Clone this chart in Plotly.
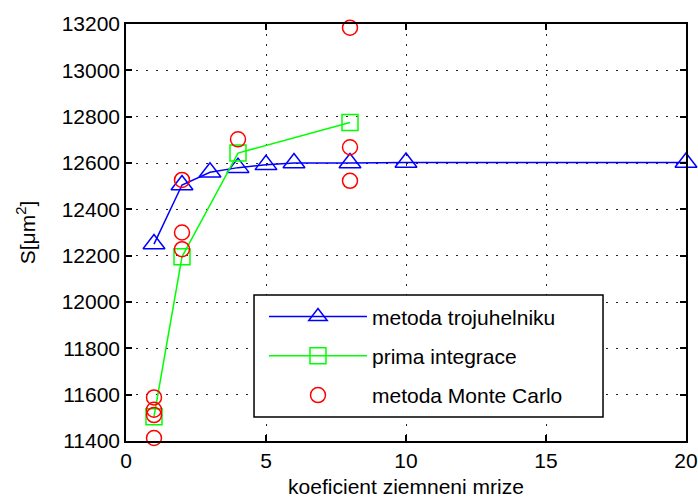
import plotly.graph_objects as go

# Data
tri_x = [1, 2, 3, 4, 5, 6, 8, 10, 20]
tri_y = [12250, 12505, 12560, 12580, 12592, 12600, 12600, 12602, 12602]

int_x = [1, 2, 4, 8]
int_y = [11505, 12195, 12643, 12775]

mc_x = [1, 1, 1, 1, 2, 2, 2, 4, 8, 8, 8]
mc_y = [11588, 11535, 11512, 11413, 12527, 12300, 12228, 12702, 13184, 12668, 12523]

x_ticks = [0, 5, 10, 15, 20]
y_ticks = list(range(11400, 13201, 200))

FONT = "Liberation Sans, Arial, sans-serif"

fig = go.Figure()
fig.add_trace(go.Scatter(
    x=tri_x, y=tri_y, mode="lines+markers", name="metoda trojuhelniku",
    legendgroup="a", cliponaxis=False,
    line=dict(color="#0000FF", width=1.5),
    marker=dict(symbol="triangle-up-open", size=19, color="#0000FF",
                line=dict(width=1.5, color="#0000FF")),
))
fig.add_trace(go.Scatter(
    x=int_x, y=int_y, mode="lines+markers", name="prima integrace",
    legendgroup="b", cliponaxis=False,
    line=dict(color="#00FF00", width=1.5),
    marker=dict(symbol="square-open", size=16, color="#00FF00",
                line=dict(width=1.5, color="#00FF00")),
))
fig.add_trace(go.Scatter(
    x=mc_x, y=mc_y, mode="markers", name="metoda Monte Carlo",
    legendgroup="c", cliponaxis=False,
    marker=dict(symbol="circle-open", size=15, color="#FF0000",
                line=dict(width=1.5, color="#FF0000")),
))

axis_common = dict(
    showline=True, linecolor="black", linewidth=1.5, mirror="ticks",
    ticks="inside", ticklen=6, tickcolor="black", tickwidth=1.5,
    showgrid=True, gridcolor="#222222", gridwidth=1, griddash="2px,8px",
    zeroline=False, automargin=False,
    tickfont=dict(family=FONT, size=21, color="black"),
)

fig.update_layout(
    width=698, height=500,
    margin=dict(l=126, r=12, t=24, b=59),
    paper_bgcolor="white", plot_bgcolor="white",
    font=dict(family=FONT, size=21, color="black"),
    xaxis=dict(range=[0, 20], tickvals=x_ticks,
               ticktext=[str(v) for v in x_ticks],
               title=dict(text="koeficient ziemneni mrize", standoff=8,
                          font=dict(family=FONT, size=21)),
               **axis_common),
    yaxis=dict(range=[11400, 13200], tickvals=y_ticks,
               ticktext=[str(v) for v in y_ticks],
               title=dict(text="S[μm<sup>2</sup>]", standoff=20,
                          font=dict(family=FONT, size=21)),
               **axis_common),
    legend=dict(x=0.2464, y=0.347, xanchor="left", yanchor="top",
                bgcolor="rgba(0,0,0,0)", borderwidth=0,
                font=dict(family=FONT, size=21), itemwidth=98,
                traceorder="grouped", tracegroupgap=9),
    shapes=[dict(type="rect", xref="paper", yref="paper",
                 x0=0.2286, x1=0.8518, y0=0.0576, y1=0.3501,
                 line=dict(color="black", width=1.5),
                 fillcolor="white", layer="above")],
    showlegend=True,
)

fig.write_html("out.html")
